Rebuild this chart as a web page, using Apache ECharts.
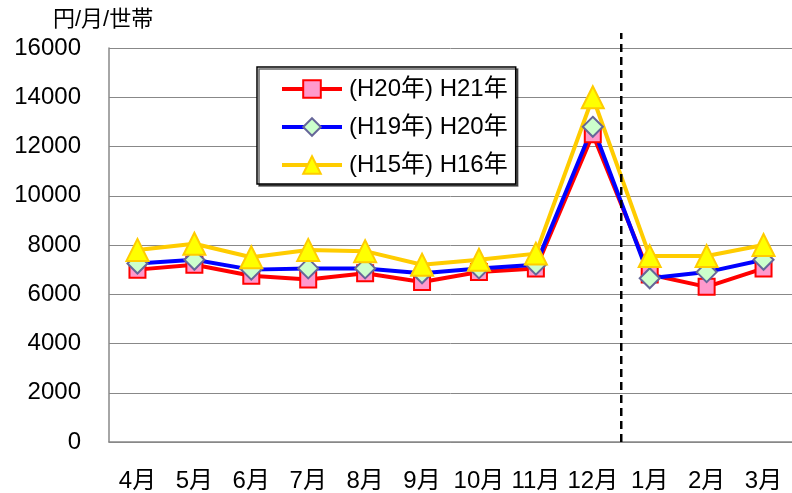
<!DOCTYPE html>
<html>
<head>
<meta charset="utf-8">
<script src="https://cdn.jsdelivr.net/npm/echarts@6/dist/echarts.min.js"></script>
<style>
  html, body { margin: 0; padding: 0; background: #fff; }
  #chart { width: 792px; height: 493px; }
</style>
</head>
<body>
<div id="chart"></div>
<script>
// 月別データ（円/月/世帯）
var months = ['4月', '5月', '6月', '7月', '8月', '9月', '10月', '11月', '12月', '1月', '2月', '3月'];
var seriesNames = ['(H20年) H21年', '(H19年) H20年', '(H15年) H16年'];
var h21 = [7000, 7200, 6750, 6600, 6850, 6500, 6900, 7050, 12500, 6800, 6300, 7050];
var h20 = [7250, 7400, 7000, 7050, 7050, 6850, 7050, 7200, 12800, 6650, 6900, 7400];
var h16 = [7800, 8050, 7500, 7800, 7750, 7200, 7400, 7650, 14000, 7550, 7550, 8000];
var yearBreak = 9; // 12月と1月の境目

var FONT = "'Liberation Sans', 'Noto Sans CJK JP', sans-serif";

var chart = echarts.init(document.getElementById('chart'));

function lineSeries(name, data, lineColor, symbol, size, fill, border) {
  return {
    name: name,
    type: 'line',
    data: data,
    symbol: symbol,
    symbolSize: size,
    showAllSymbol: true,
    animation: false,
    lineStyle: { color: lineColor, width: 4 },
    itemStyle: { color: fill, borderColor: border, borderWidth: 2, opacity: 1 }
  };
}

chart.setOption({
  backgroundColor: '#fff',
  textStyle: { fontFamily: FONT },
  title: {
    text: '円/月/世帯',
    left: 48,
    top: 4,
    textStyle: { fontFamily: FONT, fontSize: 22, fontWeight: 'normal', color: '#000' }
  },
  grid: [
    { left: 109, top: 48, width: 688, bottom: 51 },
    // 区切り線用（上に少しはみ出す）
    { left: 109, top: 33, width: 688, bottom: 51 }
  ],
  legend: {
    left: 257,
    top: 67,
    orient: 'vertical',
    backgroundColor: '#fff',
    borderColor: '#000',
    borderWidth: 1.5,
    borderRadius: 0,
    shadowColor: 'rgba(0,0,0,0.6)',
    shadowOffsetX: 2,
    shadowOffsetY: 2,
    shadowBlur: 0,
    padding: [10, 8, 7, 23],
    itemGap: 14,
    itemWidth: 60,
    itemHeight: 22,
    selectedMode: false,
    lineStyle: { width: 4 },
    textStyle: { fontFamily: FONT, fontSize: 24, color: '#000', padding: [0, 0, 0, 2] },
    data: seriesNames
  },
  xAxis: [{
    type: 'category',
    data: months,
    boundaryGap: true,
    axisLine: { lineStyle: { color: '#888', width: 1.5 } },
    axisTick: { inside: true, length: 8, lineStyle: { color: '#aaa', width: 1 } },
    axisLabel: { color: '#000', fontSize: 24, fontFamily: FONT, margin: 27, interval: 0 },
    splitLine: { show: false }
  }, {
    type: 'value',
    gridIndex: 1,
    min: 0,
    max: months.length,
    show: false
  }],
  yAxis: [{
    type: 'value',
    min: 0,
    max: 16000,
    interval: 2000,
    axisLine: { show: true, lineStyle: { color: '#888', width: 1.5 } },
    axisTick: { show: true, inside: true, length: 7, lineStyle: { color: '#888' } },
    axisLabel: {
      color: '#000', fontSize: 24, fontFamily: FONT, margin: 28,
      formatter: function (v) { return String(v); }
    },
    splitLine: { lineStyle: { color: '#888', width: 1 } }
  }, {
    type: 'value',
    gridIndex: 1,
    min: 0,
    max: 1,
    show: false
  }],
  series: [
    lineSeries(seriesNames[0], h21, '#ff0000', 'rect', 16, '#ff99cc', '#ff0000'),
    lineSeries(seriesNames[1], h20, '#0000ff', 'diamond', 20, '#ccffcc', '#666699'),
    lineSeries(seriesNames[2], h16, '#ffcc00', 'triangle', 22, '#ffff00', '#ffcc00'),
    {
      // 年度の区切り線
      type: 'line',
      xAxisIndex: 1,
      yAxisIndex: 1,
      data: [[yearBreak, 0], [yearBreak, 1]],
      symbol: 'none',
      silent: true,
      animation: false,
      z: 5,
      lineStyle: { color: '#000', type: [8, 5], width: 2.5 }
    }
  ]
});
</script>
</body>
</html>
